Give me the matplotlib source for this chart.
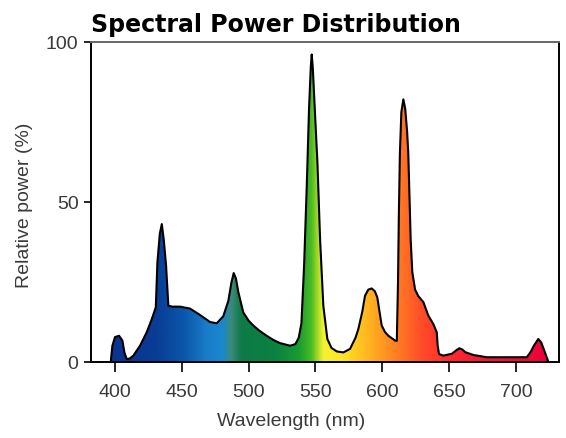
import numpy as np
import matplotlib
matplotlib.use("Agg")
import matplotlib.pyplot as plt
from matplotlib.colors import LinearSegmentedColormap
from matplotlib.patches import Polygon

# ---- data ----
wavelength_nm = [
    396.8, 398.0, 400.0, 403.0, 405.5, 407.0, 408.7, 411.0, 413.7, 418.7,
    423.7, 427.5, 430.5, 431.7, 433.5, 435.0, 436.5, 438.2, 439.9, 443.0,
    448.7, 456.1, 463.6, 471.1, 476.1, 481.0, 484.8, 487.0, 488.8, 490.5,
    492.3, 496.0, 500.0, 503.5, 508.0, 513.5, 518.5, 523.5, 531.0, 535.0,
    537.5, 539.5, 541.5, 543.5, 545.2, 546.5, 547.2, 548.0, 549.5, 551.5,
    553.5, 555.9, 558.9, 562.0, 566.0, 570.9, 575.9, 580.0, 582.1, 585.0,
    587.1, 589.5, 592.1, 594.5, 596.3, 598.0, 599.6, 602.0, 604.6, 609.6,
    610.9, 611.8, 612.4, 613.2, 614.3, 615.8, 617.2, 618.6, 619.5, 620.5,
    621.3, 622.5, 624.6, 627.0, 630.8, 634.5, 638.2, 640.8, 641.5, 642.5,
    645.7, 652.2, 655.5, 657.7, 660.0, 662.0, 668.2, 678.2, 708.2, 711.0,
    713.5, 716.8, 719.0, 720.8, 723.0, 724.3,
]
relative_power = [
    0.0, 5.0, 7.7, 8.1, 6.6, 2.9, 0.8, 1.0, 1.9, 5.0,
    9.2, 13.3, 17.0, 31.0, 40.0, 43.0, 38.0, 30.0, 17.5, 17.2,
    17.2, 16.6, 14.6, 12.4, 12.0, 14.2, 19.0, 24.5, 27.7, 26.0,
    21.7, 15.4, 12.8, 11.3, 9.7, 8.1, 6.8, 5.8, 5.0, 5.5,
    7.5, 12.0, 30.0, 55.0, 79.0, 92.0, 96.0, 92.0, 79.0, 62.0,
    38.0, 17.5, 7.1, 4.3, 3.2, 2.9, 4.0, 7.5, 10.2, 15.5,
    20.6, 22.5, 22.9, 22.0, 20.1, 15.5, 11.3, 9.3, 8.1, 6.6,
    6.5, 25.0, 45.0, 65.0, 78.0, 82.0, 79.0, 72.0, 65.0, 50.0,
    38.0, 28.0, 22.5, 20.5, 18.6, 14.4, 11.8, 9.2, 5.0, 2.4,
    1.9, 2.5, 3.6, 4.2, 3.8, 3.0, 2.1, 1.4, 1.4, 3.0,
    5.0, 7.1, 6.0, 4.0, 1.5, 0.0,
]
x_ticks = [400, 450, 500, 550, 600, 650, 700]
y_ticks = [0, 50, 100]
title_text = "Spectral Power Distribution"
x_label_text = "Wavelength (nm)"
y_label_text = "Relative power (%)"

# spectrum colour stops (wavelength, colour)
spectrum_stops = [
    (382, "#0a2f8a"), (430, "#0a3c96"), (450, "#0a55a8"), (468, "#1a7cc8"),
    (480, "#1888d0"), (487, "#3c8a78"), (494, "#0e7a48"), (520, "#0a8240"),
    (538, "#1a9c30"), (547, "#4cbc24"), (556, "#f4f230"), (570, "#ffe424"),
    (585, "#ffc020"), (600, "#ff9a22"), (615, "#ff7424"), (630, "#ff4c2a"),
    (650, "#ff2a2c"), (690, "#f41038"), (732.3, "#e8003c"),
]

XMIN, XMAX = 382.0, 732.3
YMIN, YMAX = 0.0, 100.0

W, H = 566, 439
fig = plt.figure(figsize=(W / 100, H / 100), dpi=100)
ax = fig.add_axes([91 / W, 1 - 362.7 / H, (559 - 91) / W, (362.7 - 42.7) / H])
ax.set_xlim(XMIN, XMAX)
ax.set_ylim(YMIN, YMAX)

cmap = LinearSegmentedColormap.from_list(
    "spec", [((w - XMIN) / (XMAX - XMIN), c) for w, c in spectrum_stops])
grad = np.linspace(XMIN, XMAX, 1000)[None, :]
img = ax.imshow(grad, extent=[XMIN, XMAX, YMIN, YMAX], aspect="auto",
                cmap=cmap, vmin=XMIN, vmax=XMAX, origin="lower",
                interpolation="bilinear", zorder=1)
verts = list(zip(wavelength_nm, relative_power))
clip = Polygon(verts, closed=True, facecolor="none", edgecolor="none",
               transform=ax.transData)
ax.add_patch(clip)
img.set_clip_path(clip)
ax.plot(wavelength_nm, relative_power, color="black", lw=1.5, zorder=3,
        solid_joinstyle="round")

for side in ["left", "bottom", "right"]:
    ax.spines[side].set_color("black")
    ax.spines[side].set_linewidth(1.4)
ax.spines["top"].set_color("#666666")
ax.spines["top"].set_linewidth(1.4)

tick_font = dict(family=["Liberation Sans", "DejaVu Sans"], size=14)
ax.set_xticks(x_ticks)
ax.set_yticks(y_ticks)
ax.set_xticklabels([str(t) for t in x_ticks], color="#3a3a3a", **tick_font)
ax.set_yticklabels([str(t) for t in y_ticks], color="#3a3a3a", **tick_font)
ax.tick_params(axis="x", direction="out", length=7, width=1.2, pad=8)
ax.tick_params(axis="y", direction="out", length=5, width=1.2, pad=4)

fig.text(91 / W, 1 - 31.7 / H, title_text, fontsize=17, fontweight="bold",
         family="DejaVu Sans", ha="left", va="baseline", color="black")
fig.text(291.5 / W, 1 - 422 / H, x_label_text, ha="center", va="center",
         color="#3a3a3a", **tick_font)
fig.text(25 / W, 1 - 205 / H, y_label_text, ha="center", va="center",
         rotation=90, color="#3a3a3a", **tick_font)

fig.savefig("out.png", dpi=100)
